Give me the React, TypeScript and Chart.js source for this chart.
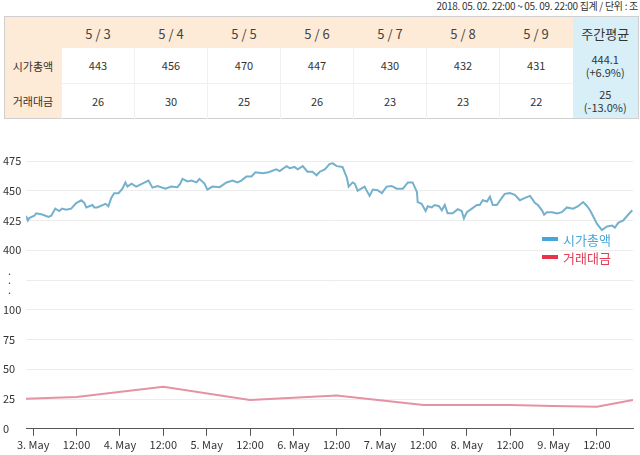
import React, { useEffect, useRef } from "react";
import { Chart, registerables } from "chart.js";

Chart.register(...registerables);

// ---------- table data ----------
const periodNote = "2018. 05. 02. 22:00 ~ 05. 09. 22:00 집계 / 단위 : 조";
const dayLabels = ["5 / 3", "5 / 4", "5 / 5", "5 / 6", "5 / 7", "5 / 8", "5 / 9"];
const avgHeader = "주간평균";
const rowNames = ["시가총액", "거래대금"];
const capRow = ["443", "456", "470", "447", "430", "432", "431"];
const volRow = ["26", "30", "25", "26", "23", "23", "22"];
const capAvg = ["444.1", "(+6.9%)"];
const volAvg = ["25", "(-13.0%)"];

// ---------- chart data (hours from 3 May 00:00) ----------
const capHours = [
  -2, -1.5, -1.1, 0.3, 0.8, 2.5, 4.2, 5.0, 6.1, 7.2, 8.0, 9.1, 10.5, 11.9, 13.3, 14.1, 14.7, 16.4, 16.9, 17.7,
  20.0, 20.8, 21.6, 22.4, 23.6, 24.7, 25.5, 26.1, 27.2, 28.5, 30.2, 31.9, 33.0, 34.4, 36.6, 38.2, 39.9, 40.7,
  41.3, 42.7, 43.8, 45.2, 46.0, 47.4, 48.2, 49.6, 51.6, 53.5, 55.2, 56.5, 57.6, 59.0, 60.4, 61.5, 63.5, 65.1,
  67.3, 68.2, 70.1, 71.0, 72.3, 73.2, 74.6, 75.9, 77.3, 78.4, 79.3, 80.7, 82.0, 82.9, 84.0, 85.6, 86.8, 87.3,
  88.4, 89.0, 89.8, 90.9, 91.7, 93.1, 94.0, 95.3, 96.5, 97.8, 99.2, 100.6, 102.3, 103.7, 105.0, 106.2, 106.4,
  107.5, 108.6, 109.2, 110.3, 111.1, 112.3, 113.1, 113.9, 114.7, 116.1, 117.5, 118.6, 119.2, 120.0, 121.4,
  122.8, 123.6, 124.4, 125.6, 126.4, 127.2, 128.3, 129.7, 130.5, 131.9, 133.3, 134.7, 136.1, 137.5, 138.9,
  139.7, 140.8, 141.4, 142.2, 143.6, 145.0, 146.3, 147.7, 149.4, 150.8, 152.2, 153.3, 154.1, 154.9, 156.0,
  157.4, 158.8, 160.2, 161.0, 161.9, 163.3, 164.4, 165.8,
];
const capValues = [
  429, 425, 427, 429, 431, 430, 428, 429, 435, 433, 435, 434, 435, 439.6, 442, 440, 436, 438, 436, 436,
  439, 437, 444, 448, 448, 451.7, 457, 453.5, 456, 453.5, 456, 458.6, 452.6, 454, 451.7, 453.5, 453, 456,
  460, 457.8, 458.5, 457, 460, 456, 451, 453.5, 453, 457, 458.6, 457, 458.5, 462, 462, 465.5, 464.7, 465.5,
  468, 466.5, 470.7, 469, 470, 468, 470.7, 466, 466, 463, 466, 468, 472.4, 473, 470.7, 470, 461, 453.5,
  457, 456, 450, 452, 453.5, 445.7, 451, 450.5, 448, 453.5, 454, 451.7, 451.7, 457, 457, 449, 440.5,
  439, 433, 437, 436, 438, 437, 433.6, 438, 431, 431, 434.5, 433, 426.7, 432, 435,
  438, 438, 442, 441, 445, 438, 438, 444, 447.4, 448, 446.6, 442, 444, 445.7, 439.6,
  438, 433.6, 430, 432, 432, 431, 432, 436, 435, 437, 440.5, 437, 433.6, 429, 422.4,
  417, 420, 420.7, 419, 423, 425, 429, 433.6,
];
const volHours = [-2, 12, 36, 60, 84, 96, 108, 120, 132, 144, 156, 166];
const volValues = [25.3, 26.7, 35.3, 24.2, 28, 24, 20, 20, 20, 19.2, 18.6, 24.2];

const xTickHours = [0, 12, 24, 36, 48, 60, 72, 84, 96, 108, 120, 132, 144, 156];
const seriesNames = ["시가총액", "거래대금"];

// broken axis: 0-100 shown as-is, 400-475 shifted down to 150-225
const toAxis = (v: number) => (v >= 300 ? v - 250 : v);
const axisLabel = (t: number): string | string[] => {
  if (t <= 100) return String(t);
  if (t === 125) return ["  .", "  .", "  ."];
  return String(t + 250);
};

const FONT = "'Noto Sans CJK KR', 'Noto Sans', sans-serif";

function ChartBox() {
  const ref = useRef<HTMLCanvasElement | null>(null);
  useEffect(() => {
    if (!ref.current) return;
    const chart = new Chart(ref.current, {
      type: "line",
      data: {
        datasets: [
          {
            label: seriesNames[0],
            data: capHours.map((h, i) => ({ x: h, y: toAxis(capValues[i]) })),
            borderColor: "#74b1cc",
            borderWidth: 2,
            pointRadius: 0,
            tension: 0,
          },
          {
            label: seriesNames[1],
            data: volHours.map((h, i) => ({ x: h, y: toAxis(volValues[i]) })),
            borderColor: "#e393a3",
            borderWidth: 2,
            pointRadius: 0,
            tension: 0,
          },
        ],
      },
      options: {
        animation: false,
        responsive: false,
        maintainAspectRatio: false,
        layout: { padding: { left: 3, right: 7, top: 21, bottom: 2 } },
        plugins: { legend: { display: false }, tooltip: { enabled: false } },
        scales: {
          x: {
            type: "linear",
            min: -2,
            max: 166,
            afterBuildTicks: (scale: any) => {
              scale.ticks = xTickHours.map((v) => ({ value: v }));
            },
            ticks: {
              autoSkip: false,
              maxRotation: 0,
              padding: 2,
              color: "#333",
              font: { family: FONT, size: 11 },
              callback: (v: any) => {
                const n = Number(v);
                return n % 24 === 0 ? `${3 + n / 24}. May` : "12:00";
              },
            },
            grid: {
              drawOnChartArea: false,
              drawTicks: true,
              tickLength: 7,
              color: "#555",
            },
            border: { display: true, color: "#555", width: 1 },
          },
          y: {
            type: "linear",
            min: 0,
            max: 225,
            afterFit: (scale: any) => {
              scale.width = 23;
            },
            ticks: {
              stepSize: 25,
              autoSkip: false,
              crossAlign: "far",
              color: "#333",
              font: { family: FONT, size: 11, lineHeight: 0.85 },
              callback: (v: any) => axisLabel(Number(v)),
            },
            grid: { color: "#ececec", drawTicks: false, lineWidth: 1 },
            border: { display: false },
          },
        },
      },
    });
    return () => chart.destroy();
  }, []);
  return <canvas ref={ref} width={640} height={315} style={{ position: "absolute", left: 0, top: 140, width: 640, height: 315 }} />;
}

const cellBase: React.CSSProperties = {
  textAlign: "center",
  verticalAlign: "middle",
  padding: 0,
  fontFamily: FONT,
};

export default function App() {
  const peach = "#fdebd7";
  const blue = "#d8eff8";
  const headStyle: React.CSSProperties = { ...cellBase, background: peach, fontSize: 13, color: "#444", paddingTop: 3 };
  const bodyStyle: React.CSSProperties = {
    ...cellBase,
    fontSize: 11,
    color: "#333",
    background: "#fff",
    borderLeft: "1px solid #f0f0f0",
    borderBottom: "1px solid #f0f0f0",
  };
  const rowNameStyle: React.CSSProperties = { ...cellBase, fontSize: 11, color: "#333", background: peach };
  const avgStyle: React.CSSProperties = { ...cellBase, fontSize: 11, color: "#333", background: blue, lineHeight: "13px" };
  return (
    <div style={{ position: "fixed", left: 0, top: 0, width: 640, height: 455, background: "#fff", overflow: "hidden" }}>
      <div
        style={{
          position: "absolute",
          right: 2,
          top: -2,
          fontFamily: FONT,
          fontSize: 10,
          color: "#333",
          whiteSpace: "nowrap",
          letterSpacing: -0.3,
        }}
      >
        {periodNote}
      </div>
      <table
        style={{
          position: "absolute",
          left: 4,
          top: 16,
          width: 634,
          height: 102,
          borderCollapse: "collapse",
          border: "1px solid #cfcfcf",
          tableLayout: "fixed",
        }}
      >
        <colgroup>
          <col style={{ width: 57 }} />
          {dayLabels.map((d) => (
            <col key={d} style={{ width: 73 }} />
          ))}
          <col style={{ width: 66 }} />
        </colgroup>
        <tbody>
          <tr style={{ height: 31 }}>
            <td style={headStyle}></td>
            {dayLabels.map((d) => (
              <td key={d} style={headStyle}>
                {d}
              </td>
            ))}
            <td style={{ ...headStyle, background: blue, color: "#333" }}>{avgHeader}</td>
          </tr>
          <tr style={{ height: 36 }}>
            <td style={rowNameStyle}>{rowNames[0]}</td>
            {capRow.map((v, i) => (
              <td key={i} style={bodyStyle}>
                {v}
              </td>
            ))}
            <td style={avgStyle}>
              {capAvg[0]}
              <br />
              {capAvg[1]}
            </td>
          </tr>
          <tr style={{ height: 35 }}>
            <td style={rowNameStyle}>{rowNames[1]}</td>
            {volRow.map((v, i) => (
              <td key={i} style={{ ...bodyStyle, borderBottom: "none" }}>
                {v}
              </td>
            ))}
            <td style={avgStyle}>
              {volAvg[0]}
              <br />
              {volAvg[1]}
            </td>
          </tr>
        </tbody>
      </table>
      <ChartBox />
      <div style={{ position: "absolute", left: 542, top: 230, fontFamily: FONT, fontSize: 13 }}>
        <div style={{ display: "flex", alignItems: "center", height: 18, color: "#4aa6dc" }}>
          <span style={{ display: "inline-block", width: 16, height: 4, background: "#46a5df", marginRight: 5 }} />
          {seriesNames[0]}
        </div>
        <div style={{ display: "flex", alignItems: "center", height: 18, color: "#e23c58" }}>
          <span style={{ display: "inline-block", width: 16, height: 4, background: "#e8334a", marginRight: 5 }} />
          {seriesNames[1]}
        </div>
      </div>
    </div>
  );
}
